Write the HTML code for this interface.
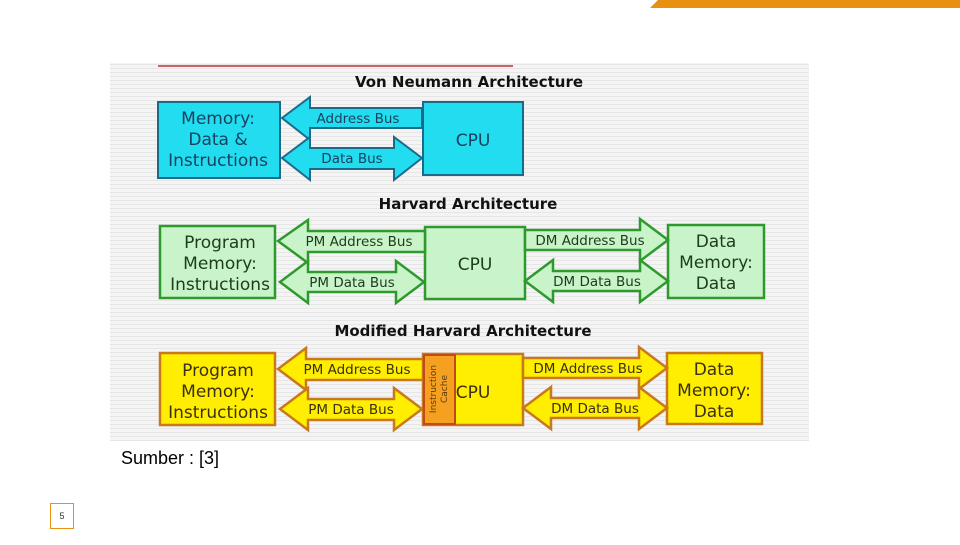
<!DOCTYPE html>
<html><head><meta charset="utf-8"><style>
body{margin:0;width:960px;height:540px;background:#fff;overflow:hidden;font-family:"Liberation Sans",sans-serif}
</style></head><body>
<svg width="960" height="540" viewBox="0 0 960 540" xmlns="http://www.w3.org/2000/svg" font-family="DejaVu Sans, Liberation Sans, sans-serif">
<defs>
<pattern id="st" width="4" height="4" patternUnits="userSpaceOnUse"><rect width="4" height="4" fill="#f4f4f4"/><rect width="4" height="1" fill="#e6e6e6"/></pattern>
</defs>
<polygon points="658,0 960,0 960,8 650,8" fill="#e8900f"/>
<rect x="110" y="63" width="699" height="378" fill="url(#st)"/>
<line x1="158" y1="66" x2="513" y2="66" stroke="#c03030" stroke-width="1.5"/>
<g font-weight="bold" font-size="15" fill="#111" text-anchor="middle">
<text x="469" y="87">Von Neumann Architecture</text>
<text x="468" y="209">Harvard Architecture</text>
<text x="463" y="336">Modified Harvard Architecture</text>
</g>
<!-- Von Neumann -->
<g fill="#22dcf0" stroke="#1b6a8a" stroke-width="2">
<rect x="158" y="102" width="122" height="76"/>
<rect x="423" y="102" width="100" height="73"/>
<polygon points="282,118 310,97 310,108 422,108 422,128 310,128 310,140"/>
<polygon points="282,158 310,137 310,148 394,148 394,137 422,158 394,180 394,169 310,169 310,180"/>
</g>
<g fill="#1a4060" font-size="13.5" text-anchor="middle">
<text x="358" y="123">Address Bus</text><text x="352" y="163">Data Bus</text>
</g>
<g fill="#1a4060" font-size="17" text-anchor="middle">
<text x="218" y="124">Memory:</text><text x="218" y="145">Data &amp;</text><text x="218" y="166">Instructions</text>
<text x="473" y="146">CPU</text>
</g>
<!-- Harvard -->
<g fill="#c9f3c9" stroke="#2e9a2e" stroke-width="2.5">
<rect x="160" y="226" width="115" height="72"/>
<rect x="425" y="227" width="100" height="72"/>
<rect x="668" y="225" width="96" height="73"/>
<polygon points="278,241 308,220 308,231 425,231 425,252 308,252 308,263"/>
<polygon points="280,282 308,261 308,272 396,272 396,261 424,282 396,303 396,292 308,292 308,303"/>
<polygon points="668,240 640,219 640,230 525,230 525,250 640,250 640,261"/>
<polygon points="525,281 553,260 553,271 640,271 640,260 668,281 640,302 640,291 553,291 553,302"/>
</g>
<g fill="#1c3c1c" font-size="13.5" text-anchor="middle">
<text x="359" y="246">PM Address Bus</text><text x="352" y="287">PM Data Bus</text>
<text x="590" y="245">DM Address Bus</text><text x="597" y="286">DM Data Bus</text>
</g>
<g fill="#1c3c1c" font-size="17" text-anchor="middle">
<text x="220" y="248">Program</text><text x="220" y="269">Memory:</text><text x="220" y="290">Instructions</text>
<text x="475" y="270">CPU</text>
<text x="716" y="247">Data</text><text x="716" y="268">Memory:</text><text x="716" y="289">Data</text>
</g>
<!-- Modified -->
<g fill="#ffee00" stroke="#c8781e" stroke-width="2.5">
<rect x="160" y="353" width="115" height="72"/>
<rect x="423" y="354" width="100" height="71"/>
<rect x="667" y="353" width="95" height="71"/>
<polygon points="278,369 306,348 306,359 423,359 423,380 306,380 306,390"/>
<polygon points="280,409 308,388 308,399 394,399 394,388 422,409 394,430 394,420 308,420 308,430"/>
<polygon points="667,368 639,347 639,358 523,358 523,378 639,378 639,389"/>
<polygon points="523,408 551,387 551,398 639,398 639,387 667,408 639,429 639,418 551,418 551,429"/>
</g>
<rect x="424" y="355" width="31" height="69" fill="#f5a020" stroke="#c04a18" stroke-width="2"/>
<g fill="#5a3a10" font-size="9" text-anchor="middle">
<text transform="translate(436,389) rotate(-90)">Instruction</text>
<text transform="translate(447,389) rotate(-90)">Cache</text>
</g>
<g fill="#3a3010" font-size="13.5" text-anchor="middle">
<text x="357" y="374">PM Address Bus</text><text x="351" y="414">PM Data Bus</text>
<text x="588" y="373">DM Address Bus</text><text x="595" y="413">DM Data Bus</text>
</g>
<g fill="#3a3010" font-size="17" text-anchor="middle">
<text x="218" y="376">Program</text><text x="218" y="397">Memory:</text><text x="218" y="418">Instructions</text>
<text x="473" y="398">CPU</text>
<text x="714" y="375">Data</text><text x="714" y="396">Memory:</text><text x="714" y="417">Data</text>
</g>
<text x="121" y="464" font-family="Liberation Sans, sans-serif" font-size="18" fill="#000">Sumber : [3]</text>
<rect x="50.5" y="503.5" width="23" height="25" fill="#fff" stroke="#e8900f"/>
<text x="62" y="519" font-family="Liberation Sans, sans-serif" font-size="9" text-anchor="middle" fill="#333">5</text>
</svg>
</body></html>
